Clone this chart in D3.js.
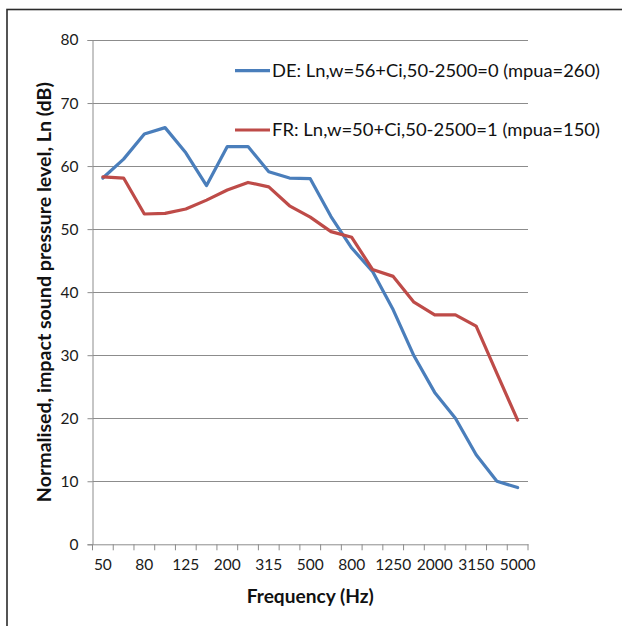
<!DOCTYPE html>
<html>
<head>
<meta charset="utf-8">
<script src="https://cdn.jsdelivr.net/npm/d3@7"></script>
<style>
  html, body { margin: 0; padding: 0; background: #fff; }
  svg { display: block; }
  text { font-family: Lato, "Open Sans", sans-serif; }
</style>
</head>
<body>
<svg id="chart" width="622" height="626"></svg>
<script>
const categories = ["50","63","80","100","125","160","200","250","315","400","500","630","800","1000","1250","1600","2000","2500","3150","4000","5000"];
const tickLabels = ["50","80","125","200","315","500","800","1250","2000","3150","5000"];
const yTicks = [0,10,20,30,40,50,60,70,80];
const seriesNames = ["DE: Ln,w=56+Ci,50-2500=0 (mpua=260)", "FR: Ln,w=50+Ci,50-2500=1 (mpua=150)"];
const deValues = [58.1, 61.1, 65.1, 66.1, 62.1, 56.9, 63.1, 63.1, 59.1, 58.1, 58.0, 52.0, 47.0, 43.3, 37.2, 29.9, 24.1, 20.0, 14.2, 10.0, 9.0];
const frValues = [58.3, 58.1, 52.4, 52.5, 53.2, 54.6, 56.2, 57.4, 56.7, 53.7, 51.9, 49.6, 48.7, 43.6, 42.5, 38.4, 36.4, 36.4, 34.6, 27.1, 19.7];
const colors = ["#4a7ebb", "#be4b48"];

(function () {
const svg = d3.select("#chart");
const pLeft = 92.5, pRight = 528, pTop = 40, pBottom = 544.3;

// outer border
svg.append("rect").attr("x", 7).attr("y", 9.5).attr("width", 640).attr("height", 640)
  .attr("fill", "none").attr("stroke", "#2b2b2b").attr("stroke-width", 1.6);

const x = d3.scaleBand().domain(categories).range([pLeft, pRight]).paddingInner(0).paddingOuter(0);
const y = d3.scaleLinear().domain([0, 80]).range([pBottom, pTop]);

// gridlines
svg.append("g").selectAll("line").data(yTicks.filter(d => d > 0)).join("line")
  .attr("x1", pLeft).attr("x2", pRight)
  .attr("y1", d => Math.round(y(d)) + 0.5).attr("y2", d => Math.round(y(d)) + 0.5)
  .attr("stroke", "#8c8c8c").attr("stroke-width", 1);

// y axis
const yAxis = svg.append("g").attr("transform", `translate(${pLeft},0)`)
  .call(d3.axisLeft(y).tickValues(yTicks).tickSize(5).tickPadding(9).tickFormat(d3.format("d")));
yAxis.select(".domain").attr("stroke", "#8c8c8c");
yAxis.selectAll(".tick line").attr("stroke", "#8c8c8c");
yAxis.selectAll("text").attr("font-size", 15.5).attr("fill", "#1a1a1a")
  .style("font-family", "Lato, sans-serif");

// x axis
const xAxis = svg.append("g").attr("transform", `translate(0,${pBottom})`)
  .call(d3.axisBottom(x).tickValues(tickLabels).tickSize(0).tickPadding(15));
xAxis.select(".domain").attr("stroke", "#8c8c8c");
xAxis.selectAll("text").attr("font-size", 15.5).attr("fill", "#1a1a1a")
  .style("font-family", "Lato, sans-serif");
// tick marks at band boundaries
const bounds = categories.map(c => x(c)).concat([x(categories[categories.length-1]) + x.bandwidth()]);
svg.append("g").selectAll("line").data(bounds).join("line")
  .attr("x1", d => d).attr("x2", d => d)
  .attr("y1", pBottom).attr("y2", pBottom + 6)
  .attr("stroke", "#8c8c8c");

// lines
const line = d3.line().x((d, i) => x(categories[i]) + x.bandwidth() / 2).y(d => y(d));
[deValues, frValues].forEach((vals, k) => {
  svg.append("path").datum(vals).attr("d", line)
    .attr("fill", "none").attr("stroke", colors[k]).attr("stroke-width", 3.2)
    .attr("stroke-linejoin", "round").attr("stroke-linecap", "round");
});

// legend
const legendY = [70.7, 130];
seriesNames.forEach((name, k) => {
  svg.append("line").attr("x1", 235).attr("x2", 270).attr("y1", legendY[k]).attr("y2", legendY[k])
    .attr("stroke", colors[k]).attr("stroke-width", 3.2);
  svg.append("text").attr("x", 272).attr("y", legendY[k]).attr("dy", "0.36em")
    .attr("font-size", 17.5).attr("fill", "#111")
    .attr("textLength", 328).attr("lengthAdjust", "spacingAndGlyphs")
    .text(name);
});

// axis titles
svg.append("text").attr("x", (pLeft + pRight) / 2).attr("y", 603)
  .attr("text-anchor", "middle").attr("font-size", 19).attr("font-weight", "bold").attr("fill", "#111")
  .attr("textLength", 127).attr("lengthAdjust", "spacingAndGlyphs")
  .text("Frequency (Hz)");
svg.append("text").attr("transform", `translate(51,${(pTop + pBottom) / 2}) rotate(-90)`)
  .attr("text-anchor", "middle").attr("font-size", 19).attr("font-weight", "bold").attr("fill", "#111")
  .attr("textLength", 420).attr("lengthAdjust", "spacingAndGlyphs")
  .text("Normalised, impact sound pressure level, Ln (dB)");
})();
</script>
</body>
</html>
